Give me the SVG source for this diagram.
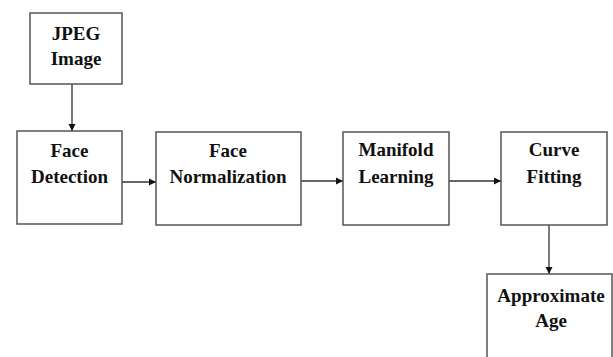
<svg xmlns="http://www.w3.org/2000/svg" width="613" height="357" viewBox="0 0 613 357">
<style>
.box{fill:#fff;stroke:#555;stroke-width:1.5}
.lbl{font-family:"Liberation Serif","Times New Roman",serif;font-weight:bold;font-size:19px;fill:#111;text-anchor:middle}
.edge{stroke:#333;stroke-width:1.3;fill:none;marker-end:url(#ah)}
</style>
<defs>
<marker id="ah" markerWidth="8" markerHeight="8" refX="7" refY="4" orient="auto" markerUnits="userSpaceOnUse">
<path d="M0,0.5 L7,4 L0,7.5 Z" fill="#111"/>
</marker>
</defs>
<rect width="613" height="357" fill="#fff"/>
<g id="connectors">
<line class="edge" x1="72" y1="84" x2="72" y2="131"/>
<line class="edge" x1="122" y1="182" x2="156" y2="182"/>
<line class="edge" x1="301" y1="181" x2="343" y2="181"/>
<line class="edge" x1="449" y1="181" x2="501" y2="181"/>
<line class="edge" x1="549" y1="225" x2="549" y2="274"/>
</g>
<g id="jpeg">
<rect class="box" x="30" y="13" width="92" height="71"/>
<text class="lbl" x="76" y="40">JPEG</text>
<text class="lbl" x="76" y="65">Image</text>
</g>
<g id="detect">
<rect class="box" x="17" y="131" width="105" height="93"/>
<text class="lbl" x="69.5" y="157">Face</text>
<text class="lbl" x="69.5" y="183">Detection</text>
</g>
<g id="norm">
<rect class="box" x="156" y="132" width="145" height="93"/>
<text class="lbl" x="228" y="157">Face</text>
<text class="lbl" x="228" y="183">Normalization</text>
</g>
<g id="manifold">
<rect class="box" x="343" y="132" width="106" height="93"/>
<text class="lbl" x="396" y="156">Manifold</text>
<text class="lbl" x="396" y="183">Learning</text>
</g>
<g id="curve">
<rect class="box" x="501" y="132" width="106" height="93"/>
<text class="lbl" x="554" y="156">Curve</text>
<text class="lbl" x="554" y="183">Fitting</text>
</g>
<g id="age">
<rect class="box" x="487" y="274" width="125" height="100"/>
<text class="lbl" x="551" y="302">Approximate</text>
<text class="lbl" x="551" y="327">Age</text>
</g>
</svg>
